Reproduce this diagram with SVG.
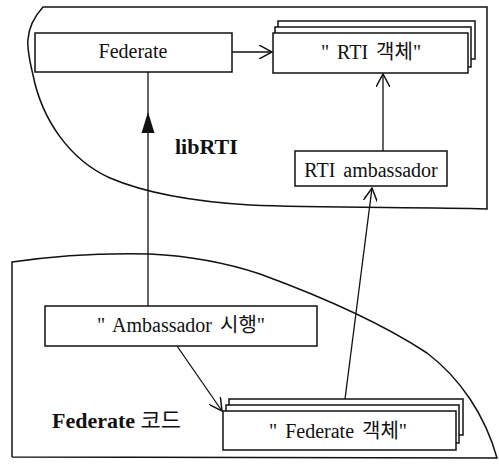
<svg xmlns="http://www.w3.org/2000/svg" width="499" height="467" viewBox="0 0 499 467">
<style>
.region{fill:none;stroke:#111;stroke-width:1.5}
.box{fill:#fff;stroke:#111;stroke-width:1.5}
.t{font-family:"Liberation Serif","Noto Sans CJK KR",serif;font-size:20px;fill:#111;text-anchor:middle}
.lbl{font-family:"Liberation Serif","Noto Sans CJK KR",serif;font-size:22px;font-weight:bold;fill:#111}
.c{fill:none;stroke:#111;stroke-width:1.3}
</style>
<defs>
<marker id="open" viewBox="0 0 14 14" refX="13" refY="7" markerWidth="14" markerHeight="14" markerUnits="userSpaceOnUse" orient="auto">
<path d="M0,0 L13,7 L0,14" fill="none" stroke="#111" stroke-width="1.5"/>
</marker>
</defs>
<g id="libRTI-region">
<path class="region" d="M43,7 L487,7 L487,209 C420,207 320,208 250,205 C200,202 150,195 110,178 C70,160 42,120 33,75 C27,50 22,30 43,7 Z"/>
<text class="lbl" x="175" y="154">libRTI</text>
</g>
<g id="federate-code-region">
<path class="region" d="M12,457 L12,262 C60,255 110,253 150,254 C190,256 230,264 260,274 C320,296 380,322 427,353 C460,378 485,415 497,458 L12,457"/>
<text class="lbl" x="52" y="428">Federate <tspan font-weight="normal">코드</tspan></text>
</g>
<g id="connectors">
<line class="c" x1="232" y1="52" x2="272" y2="52" marker-end="url(#open)"/>
<line class="c" x1="383" y1="151" x2="383" y2="74" marker-end="url(#open)"/>
<line class="c" x1="345" y1="399" x2="372" y2="188" marker-end="url(#open)"/>
<line class="c" x1="148" y1="306" x2="148" y2="72"/>
<path d="M148,112 L154.5,133 L141.5,133 Z" fill="#111"/>
<line class="c" x1="177" y1="346" x2="222" y2="411" marker-end="url(#open)"/>
</g>
<g id="federate">
<rect class="box" x="35" y="33" width="197" height="39"/>
<text class="t" x="133" y="58">Federate</text>
</g>
<g id="rti-object">
<rect class="box" x="278" y="21" width="197" height="38"/>
<rect class="box" x="275" y="27" width="196" height="40"/>
<rect class="box" x="273" y="33" width="195" height="40"/>
<text class="t" x="371" y="59" word-spacing="3">" RTI 객체"</text>
</g>
<g id="rti-ambassador">
<rect class="box" x="295" y="151" width="152" height="35"/>
<text class="t" x="371" y="177" word-spacing="3">RTI ambassador</text>
</g>
<g id="ambassador-exec">
<rect class="box" x="45" y="306" width="272" height="40"/>
<text class="t" x="181" y="332" word-spacing="3">" Ambassador 시행"</text>
</g>
<g id="federate-object">
<rect class="box" x="229" y="399" width="234" height="36"/>
<rect class="box" x="226" y="405" width="233" height="38"/>
<rect class="box" x="223" y="411" width="233" height="39"/>
<text class="t" x="338" y="438" word-spacing="3">" Federate 객체"</text>
</g>
</svg>
